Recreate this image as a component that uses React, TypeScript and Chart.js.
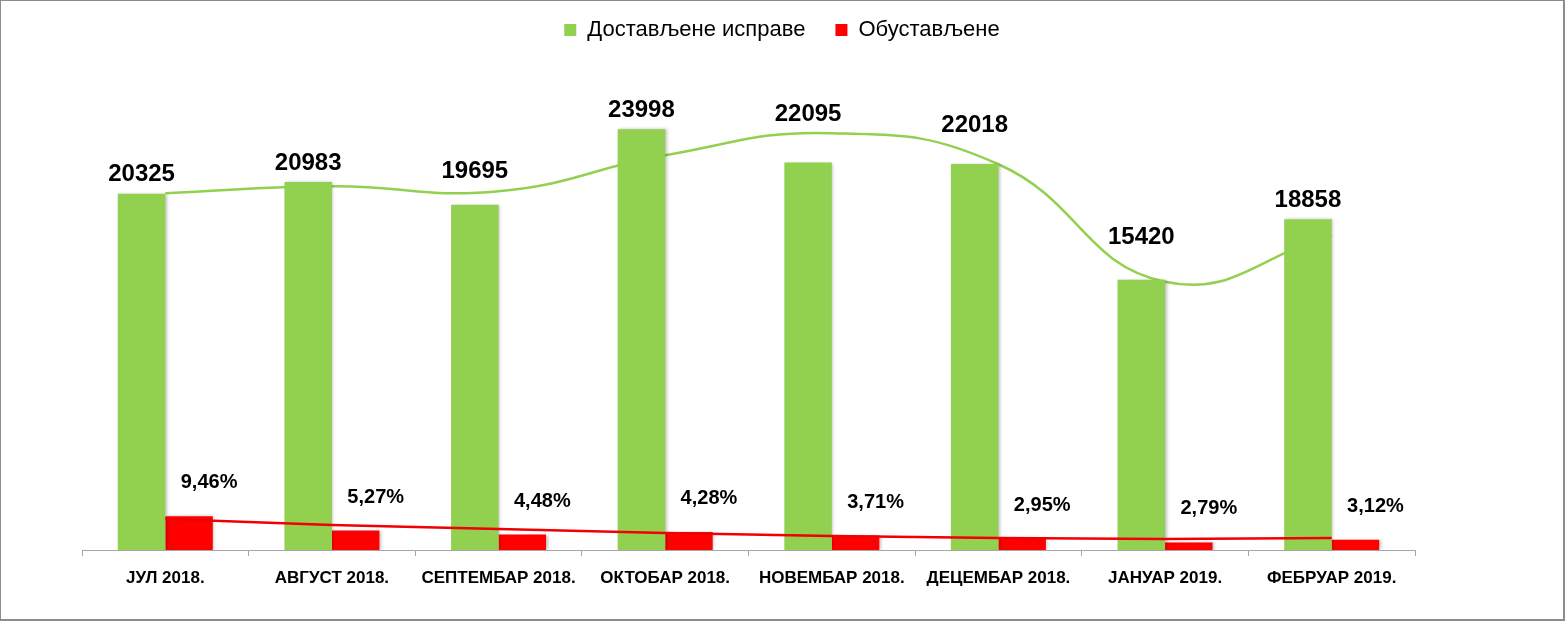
import { useEffect, useRef } from 'react';
import { Chart, registerables } from 'chart.js';

Chart.register(...registerables);

const categories = ['ЈУЛ 2018.', 'АВГУСТ 2018.', 'СЕПТЕМБАР 2018.', 'ОКТОБАР 2018.', 'НОВЕМБАР 2018.', 'ДЕЦЕМБАР 2018.', 'ЈАНУАР 2019.', 'ФЕБРУАР 2019.'];
const delivered = [20325, 20983, 19695, 23998, 22095, 22018, 15420, 18858];
const suspended = [1923, 1106, 882, 1027, 820, 650, 430, 588];
const suspendedPctLabels = ['9,46%', '5,27%', '4,48%', '4,28%', '3,71%', '2,95%', '2,79%', '3,12%'];
const deliveredTrend = [20350, 20750, 20460, 22510, 23770, 22000, 15300, 17950];
const suspendedTrend = [1767, 1425, 1197, 969, 798, 684, 627, 684];

const FONT = "'Liberation Sans', Arial, sans-serif";
const GREEN = '#92D050';
const RED = '#FF0000';

const legendHeight = {
  id: 'legendHeight',
  beforeInit(chart: any) {
    const legend = chart.legend;
    if (!legend) return;
    const fit = legend.fit;
    legend.fit = function () {
      fit.bind(legend)();
      this.height = 62;
    };
  },
};

const barShadow = {
  id: 'barShadow',
  beforeDatasetDraw(chart: any, args: any) {
    if (args.meta.type === 'bar') {
      const ctx = chart.ctx;
      ctx.save();
      ctx.shadowColor = 'rgba(0,0,0,0.25)';
      ctx.shadowBlur = 3;
      ctx.shadowOffsetX = 1.5;
      ctx.shadowOffsetY = 0;
    }
  },
  afterDatasetDraw(chart: any, args: any) {
    if (args.meta.type === 'bar') chart.ctx.restore();
  },
};

// highest point of the trend curve within [x0, x1]
function curveTop(points: any[], x0: number, x1: number): number {
  let best = Infinity;
  for (let j = 0; j < points.length - 1; j++) {
    const a = points[j];
    const b = points[j + 1];
    const p1x = a.cp2x ?? a.x, p1y = a.cp2y ?? a.y;
    const p2x = b.cp1x ?? b.x, p2y = b.cp1y ?? b.y;
    for (let k = 0; k <= 50; k++) {
      const t = k / 50;
      const u = 1 - t;
      const x = u * u * u * a.x + 3 * u * u * t * p1x + 3 * u * t * t * p2x + t * t * t * b.x;
      const y = u * u * u * a.y + 3 * u * u * t * p1y + 3 * u * t * t * p2y + t * t * t * b.y;
      if (x >= x0 && x <= x1 && y < best) best = y;
    }
  }
  return best;
}

const valueLabels = {
  id: 'valueLabels',
  afterDatasetsDraw(chart: any) {
    const ctx = chart.ctx;
    const lineMeta = chart.getDatasetMeta(0);
    const gMeta = chart.getDatasetMeta(1);
    const rMeta = chart.getDatasetMeta(2);
    ctx.save();
    ctx.fillStyle = '#000';
    ctx.textAlign = 'center';
    ctx.textBaseline = 'alphabetic';
    ctx.font = `bold 24px ${FONT}`;
    gMeta.data.forEach((bar: any, i: number) => {
      const text = String(delivered[i]);
      const w = ctx.measureText(text).width;
      const ly = curveTop(lineMeta.data, bar.x - w / 2, bar.x + w / 2);
      const y = Math.min(bar.y, ly) - 12;
      ctx.fillText(text, bar.x, y);
    });
    ctx.font = `bold 20px ${FONT}`;
    rMeta.data.forEach((bar: any, i: number) => {
      ctx.fillText(suspendedPctLabels[i], bar.x + 20, bar.y - 28);
    });
    ctx.restore();
  },
};

export default function App() {
  const ref = useRef<HTMLCanvasElement | null>(null);
  useEffect(() => {
    document.body.style.margin = '0';
    if (!ref.current) return;
    const chart = new Chart(ref.current, {
      type: 'bar',
      data: {
        labels: categories,
        datasets: [
          {
            type: 'line',
            label: 'trend1',
            data: deliveredTrend,
            borderColor: GREEN,
            borderWidth: 2.5,
            pointRadius: 0,
            tension: 0.45,
            fill: false,
            order: 3,
          } as any,
          {
            type: 'bar',
            label: 'Достављене исправе',
            data: delivered,
            backgroundColor: GREEN,
            barPercentage: 1,
            categoryPercentage: 0.57,
            order: 2,
          },
          {
            type: 'bar',
            label: 'Обустављене',
            data: suspended,
            backgroundColor: RED,
            barPercentage: 1,
            categoryPercentage: 0.57,
            order: 2,
          },
          {
            type: 'line',
            label: 'trend2',
            data: suspendedTrend,
            borderColor: '#F00000',
            borderWidth: 2.5,
            pointRadius: 0,
            tension: 0.2,
            fill: false,
            order: 1,
          } as any,
        ],
      },
      options: {
        responsive: true,
        maintainAspectRatio: false,
        animation: false,
        layout: { padding: { left: 0, right: 0, top: -12, bottom: 0 } },
        plugins: {
          legend: {
            display: true,
            position: 'top',
            labels: {
              filter: (item: any) => item.datasetIndex === 1 || item.datasetIndex === 2,
              boxWidth: 12,
              boxHeight: 12,
              padding: 30,
              color: '#000',
              font: { family: FONT, size: 22 },
            },
          },
          tooltip: { enabled: false },
        },
        scales: {
          x: {
            grid: {
              display: true,
              drawOnChartArea: false,
              drawTicks: true,
              tickLength: 6,
              color: '#a6a6a6',
              offset: true,
            },
            border: { display: true, color: '#a6a6a6', width: 1 },
            ticks: {
              color: '#000',
              font: { family: FONT, size: 17, weight: 'bold' },
              padding: 12,
              autoSkip: false,
              maxRotation: 0,
              minRotation: 0,
            },
            afterFit: (scale: any) => {
              scale.height = 69;
            },
          },
          y: {
            display: true,
            position: 'left',
            min: 0,
            max: 28460,
            grid: { display: false },
            border: { display: false },
            ticks: { display: false },
            afterFit: (scale: any) => {
              scale.width = 81;
            },
          },
          yRight: {
            display: true,
            position: 'right',
            type: 'linear',
            grid: { display: false },
            border: { display: false },
            ticks: { display: false },
            afterFit: (scale: any) => {
              scale.width = 148;
            },
          },
        },
      },
      plugins: [legendHeight, barShadow, valueLabels],
    });
    return () => chart.destroy();
  }, []);

  return (
    <div
      style={{
        width: 1565,
        height: 621,
        boxSizing: 'border-box',
        borderStyle: 'solid',
        borderColor: '#8c8c8c',
        borderWidth: '1px 2px 2px 1px',
        background: '#fff',
      }}
    >
      <div style={{ position: 'relative', width: '100%', height: '100%' }}>
        <canvas ref={ref} />
      </div>
    </div>
  );
}
